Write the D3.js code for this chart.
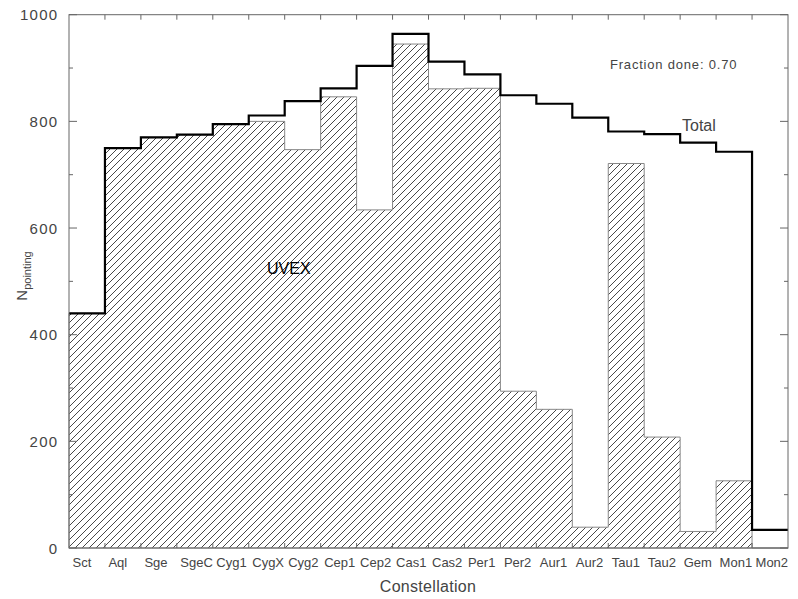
<!DOCTYPE html>
<html>
<head>
<meta charset="utf-8">
<script src="https://cdn.jsdelivr.net/npm/d3@7"></script>
<style>
  html, body { margin: 0; padding: 0; background: #fff; }
  svg { display: block; }
  text { font-family: "Liberation Sans", Arial, sans-serif; }
</style>
</head>
<body>
<svg id="chart" width="798" height="599"></svg>
<script>
const categories = ["Sct","Aql","Sge","SgeC","Cyg1","CygX","Cyg2","Cep1","Cep2","Cas1","Cas2","Per1","Per2","Aur1","Aur2","Tau1","Tau2","Gem","Mon1","Mon2"];
const totalCounts = [440,750,770,775,795,811,838,862,904,964,912,888,849,833,807,781,776,760,743,34];
const uvexCounts  = [440,750,770,775,795,800,747,846,634,945,861,862,294,260,39,721,208,31,126,0];
const yMajorTicks = [0,200,400,600,800,1000];
const yMinorTicks = [100,300,500,700,900];

(function () {
const svg = d3.select("#chart");
const pL = 69, pR = 788, pT = 14.7, pB = 548;

const x = d3.scaleBand().domain(categories).range([pL, pR]).padding(0);
const y = d3.scaleLinear().domain([0, 1000]).range([pB, pT]);

// hatch pattern
const defs = svg.append("defs");
const pat = defs.append("pattern")
  .attr("id", "hatch").attr("patternUnits", "userSpaceOnUse")
  .attr("width", 7).attr("height", 7);
pat.append("path")
  .attr("d", "M-1,1 l2,-2 M0,7 l7,-7 M6,8 l2,-2")
  .attr("stroke", "#333").attr("stroke-width", 0.9).attr("fill", "none");

// step points
function stepPoints(vals) {
  const pts = categories.map((c, i) => [x(c), vals[i]]);
  pts.push([x.range()[1], vals[vals.length - 1]]);
  return pts;
}

// UVEX hatched area
const area = d3.area()
  .x(d => d[0]).y0(y(0)).y1(d => y(d[1]))
  .curve(d3.curveStepAfter);
svg.append("path")
  .datum(stepPoints(uvexCounts))
  .attr("d", area)
  .attr("fill", "url(#hatch)")
  .attr("stroke", "#888").attr("stroke-width", 1);

// Total step line
const line = d3.line()
  .x(d => d[0]).y(d => y(d[1]))
  .curve(d3.curveStepAfter);
svg.append("path")
  .datum(stepPoints(totalCounts))
  .attr("d", line)
  .attr("fill", "none")
  .attr("stroke", "#000").attr("stroke-width", 2.2);

// frame
svg.append("rect")
  .attr("x", pL).attr("y", pT)
  .attr("width", pR - pL).attr("height", pB - pT)
  .attr("fill", "none").attr("stroke", "#666").attr("stroke-width", 1);

// y ticks (left & right, inward)
const tickG = svg.append("g").attr("stroke", "#666").attr("stroke-width", 1);
yMajorTicks.forEach(v => {
  tickG.append("line").attr("x1", pL).attr("x2", pL + 8).attr("y1", y(v)).attr("y2", y(v));
  tickG.append("line").attr("x1", pR).attr("x2", pR - 8).attr("y1", y(v)).attr("y2", y(v));
});
yMinorTicks.forEach(v => {
  tickG.append("line").attr("x1", pL).attr("x2", pL + 4).attr("y1", y(v)).attr("y2", y(v));
  tickG.append("line").attr("x1", pR).attr("x2", pR - 4).attr("y1", y(v)).attr("y2", y(v));
});
// x ticks at bin boundaries
categories.slice(1).forEach(c => {
  const xx = x(c);
  tickG.append("line").attr("x1", xx).attr("x2", xx).attr("y1", pB).attr("y2", pB - 5);
  tickG.append("line").attr("x1", xx).attr("x2", xx).attr("y1", pT).attr("y2", pT + 5);
});

// y tick labels
svg.append("g").selectAll("text").data(yMajorTicks).join("text")
  .attr("x", pL - 10.5).attr("y", d => y(d) + 5.5)
  .attr("text-anchor", "end")
  .attr("font-size", 15).attr("letter-spacing", 1.3)
  .attr("fill", "#444")
  .text(d => d);

// x tick labels
svg.append("g").selectAll("text").data(categories).join("text")
  .attr("x", d => x(d) + 3.5).attr("y", 567)
  .attr("font-size", 13)
  .attr("fill", "#444")
  .text(d => d);

// axis titles
svg.append("text")
  .attr("x", (pL + pR) / 2 - 0.5).attr("y", 592)
  .attr("text-anchor", "middle")
  .attr("font-size", 16).attr("letter-spacing", 0.3)
  .attr("fill", "#444")
  .text("Constellation");

const yl = svg.append("text")
  .attr("transform", "translate(27,276) rotate(-90)")
  .attr("text-anchor", "middle")
  .attr("fill", "#444");
yl.append("tspan").attr("font-size", 15).text("N");
yl.append("tspan").attr("font-size", 11).attr("dy", 4).text("pointing");

// annotations
svg.append("text")
  .attr("x", 610).attr("y", 68.5)
  .attr("font-size", 13).attr("letter-spacing", 0.8)
  .attr("fill", "#444")
  .text("Fraction done: 0.70");
svg.append("text")
  .attr("x", 682).attr("y", 131)
  .attr("font-size", 16)
  .attr("fill", "#444")
  .text("Total");
svg.append("text")
  .attr("x", 267).attr("y", 274)
  .attr("font-size", 16)
  .attr("fill", "#000")
  .text("UVEX");
})();
</script>
</body>
</html>
